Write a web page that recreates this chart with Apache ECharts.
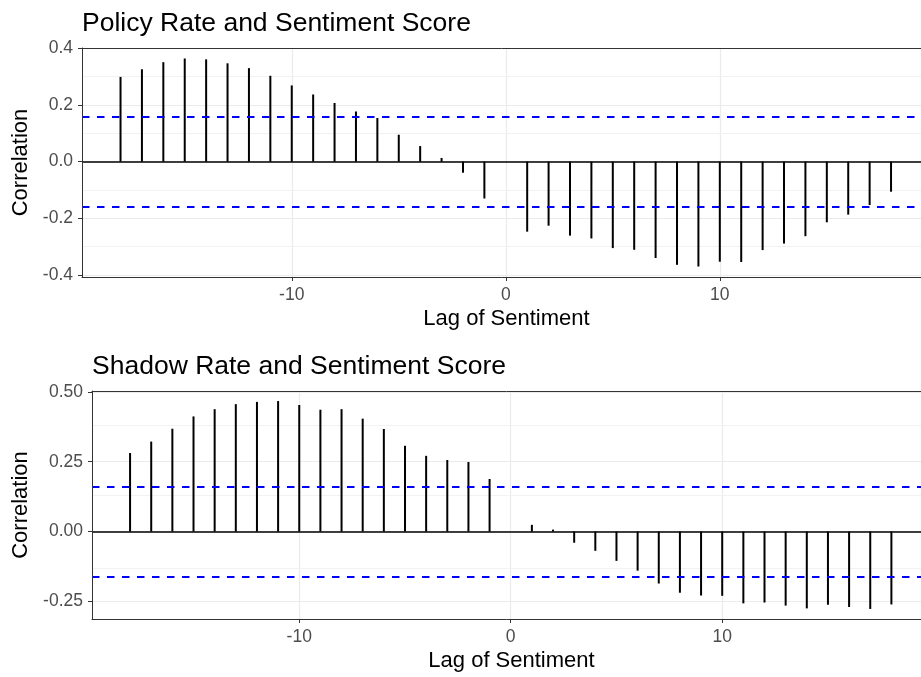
<!DOCTYPE html>
<html>
<head>
<meta charset="utf-8">
<title>Cross-correlation of rates and sentiment</title>
<script src="https://cdn.jsdelivr.net/npm/echarts@6/dist/echarts.min.js"></script>
<style>
  html, body { margin: 0; padding: 0; background: #fff; }
  #main { width: 921px; height: 677px; }
</style>
</head>
<body>
<div id="main"></div>
<script>
// lags of sentiment
var lags = [-18,-17,-16,-15,-14,-13,-12,-11,-10,-9,-8,-7,-6,-5,-4,-3,-2,-1,0,
            1,2,3,4,5,6,7,8,9,10,11,12,13,14,15,16,17,18];

// policy rate vs sentiment
var policyCorr = [0.299,0.326,0.351,0.364,0.361,0.347,0.330,0.303,0.269,0.237,0.207,0.177,0.154,0.095,0.055,0.013,-0.039,-0.130,0,
                  -0.247,-0.226,-0.261,-0.271,-0.305,-0.311,-0.340,-0.364,-0.370,-0.353,-0.354,-0.312,-0.289,-0.263,-0.214,-0.187,-0.153,-0.106];

// shadow rate vs sentiment
var shadowCorr = [0.281,0.322,0.368,0.412,0.438,0.456,0.464,0.467,0.453,0.436,0.438,0.404,0.367,0.307,0.271,0.256,0.249,0.188,0,
                  0.024,0.007,-0.040,-0.069,-0.105,-0.140,-0.186,-0.219,-0.229,-0.230,-0.257,-0.254,-0.265,-0.275,-0.262,-0.270,-0.277,-0.261];

var confBand = 0.158;   // significance bounds

var xTicks = [-10, 0, 10];
var policyTicks = [-0.4, -0.2, 0, 0.2, 0.4];
var policyMinor = [-0.3, -0.1, 0.1, 0.3];
var shadowTicks = [-0.25, 0, 0.25, 0.5];
var shadowMinor = [-0.125, 0.125, 0.375];

var pageModule = function () {
	var font = 'Liberation Sans, Arial, sans-serif';
	var xMin = -19.8, xMax = 19.4;   // right side of the panel is cut off by the window

	var pairs = function (vals) {
		return lags.map(function (l, i) { return [l, vals[i]]; });
	};

	var xAxisOf = function (idx) {
		return {
			type: 'value',
			gridIndex: idx,
			min: xMin,
			max: xMax,
			name: 'Lag of Sentiment',
			nameLocation: 'middle',
			nameGap: 31,
			// the full panel is wider than the window, so nudge the title to its real centre
			nameTextStyle: { color: '#000', fontSize: 22, fontFamily: font, padding: [0, 0, 0, 10] },
			axisLine: { onZero: false, lineStyle: { color: '#333', width: 1 } },
			axisTick: { customValues: xTicks, length: 4, lineStyle: { color: '#333' } },
			axisLabel: { customValues: xTicks, margin: 9, color: '#4d4d4d', fontSize: 17.5, fontFamily: font },
			splitLine: { show: true, lineStyle: { color: '#ebebeb', width: 1.2 } }
		};
	};

	// top border of the panel
	var topAxisOf = function (idx) {
		return {
			type: 'value',
			gridIndex: idx,
			position: 'top',
			min: xMin,
			max: xMax,
			z: 6,
			axisLine: { onZero: false, lineStyle: { color: '#333', width: 1 } },
			axisTick: { show: false },
			axisLabel: { show: false },
			splitLine: { show: false }
		};
	};

	var yAxisOf = function (idx, min, max, ticks, fmt) {
		return {
			type: 'value',
			gridIndex: idx,
			min: min,
			max: max,
			name: 'Correlation',
			nameLocation: 'middle',
			nameGap: idx === 0 ? 46 : 56,
			nameTextStyle: { color: '#000', fontSize: 22, fontFamily: font },
			axisLine: { show: false, onZero: false },
			axisTick: { show: true, customValues: ticks, length: 4, lineStyle: { color: '#333' } },
			axisLabel: {
				customValues: ticks, margin: 9, color: '#4d4d4d', fontSize: 17.5, fontFamily: font,
				formatter: fmt
			},
			splitLine: { show: true, lineStyle: { color: '#ebebeb', width: 1.2 } }
		};
	};

	// left border drawn above the grid lines
	var leftAxisOf = function (idx, min, max) {
		return {
			type: 'value',
			gridIndex: idx,
			position: 'left',
			min: min,
			max: max,
			z: 6,
			axisLine: { show: true, onZero: false, lineStyle: { color: '#333', width: 1 } },
			axisTick: { show: false },
			axisLabel: { show: false },
			splitLine: { show: false }
		};
	};

	var stemSeries = function (idx, vals) {
		return {
			type: 'bar',
			xAxisIndex: idx,
			yAxisIndex: idx,
			barWidth: 2,
			itemStyle: { color: '#000' },
			data: pairs(vals),
			z: 3,
			markLine: {
				silent: true,
				symbol: 'none',
				label: { show: false },
				animation: false,
				z: 5,
				data: [
					{ yAxis: 0, lineStyle: { color: '#000', width: 1.5, type: 'solid' } },
					{ yAxis: confBand, lineStyle: { color: '#0000ff', width: 1.8, type: [7.5, 7.5] } },
					{ yAxis: -confBand, lineStyle: { color: '#0000ff', width: 1.8, type: [7.5, 7.5] } }
				]
			}
		};
	};

	var minorSeries = function (idx, minor) {
		return {
			type: 'line',
			xAxisIndex: idx,
			yAxisIndex: idx,
			data: [],
			z: 1,
			markLine: {
				silent: true,
				symbol: 'none',
				label: { show: false },
				animation: false,
				z: 1,
				lineStyle: { color: '#f2f2f2', width: 1, type: 'solid' },
				data: minor.map(function (v) { return { yAxis: v }; })
			}
		};
	};

	var initChart = function () {
		var chart = echarts.init(document.getElementById('main'));
		chart.setOption({
			animation: false,
			title: [
				{ text: 'Policy Rate and Sentiment Score', left: 77, top: 5,
				  textStyle: { color: '#000', fontSize: 26.5, fontWeight: 'normal', fontFamily: font } },
				{ text: 'Shadow Rate and Sentiment Score', left: 87, top: 348,
				  textStyle: { color: '#000', fontSize: 26.5, fontWeight: 'normal', fontFamily: font } }
			],
			grid: [
				{ left: 82, right: 0, top: 48, height: 229 },
				{ left: 92, right: 0, top: 391, height: 228 }
			],
			xAxis: [xAxisOf(0), xAxisOf(1), topAxisOf(0), topAxisOf(1)],
			yAxis: [
				yAxisOf(0, -0.407, 0.401, policyTicks, function (v) { return v.toFixed(1); }),
				yAxisOf(1, -0.313, 0.503, shadowTicks, function (v) { return v.toFixed(2); }),
				leftAxisOf(0, -0.407, 0.401),
				leftAxisOf(1, -0.313, 0.503)
			],
			series: [
				minorSeries(0, policyMinor),
				stemSeries(0, policyCorr),
				minorSeries(1, shadowMinor),
				stemSeries(1, shadowCorr)
			]
		});
	};

	return {
		initControl: function () {
			initChart();
		}
	};
}();

pageModule.initControl();
</script>
</body>
</html>
